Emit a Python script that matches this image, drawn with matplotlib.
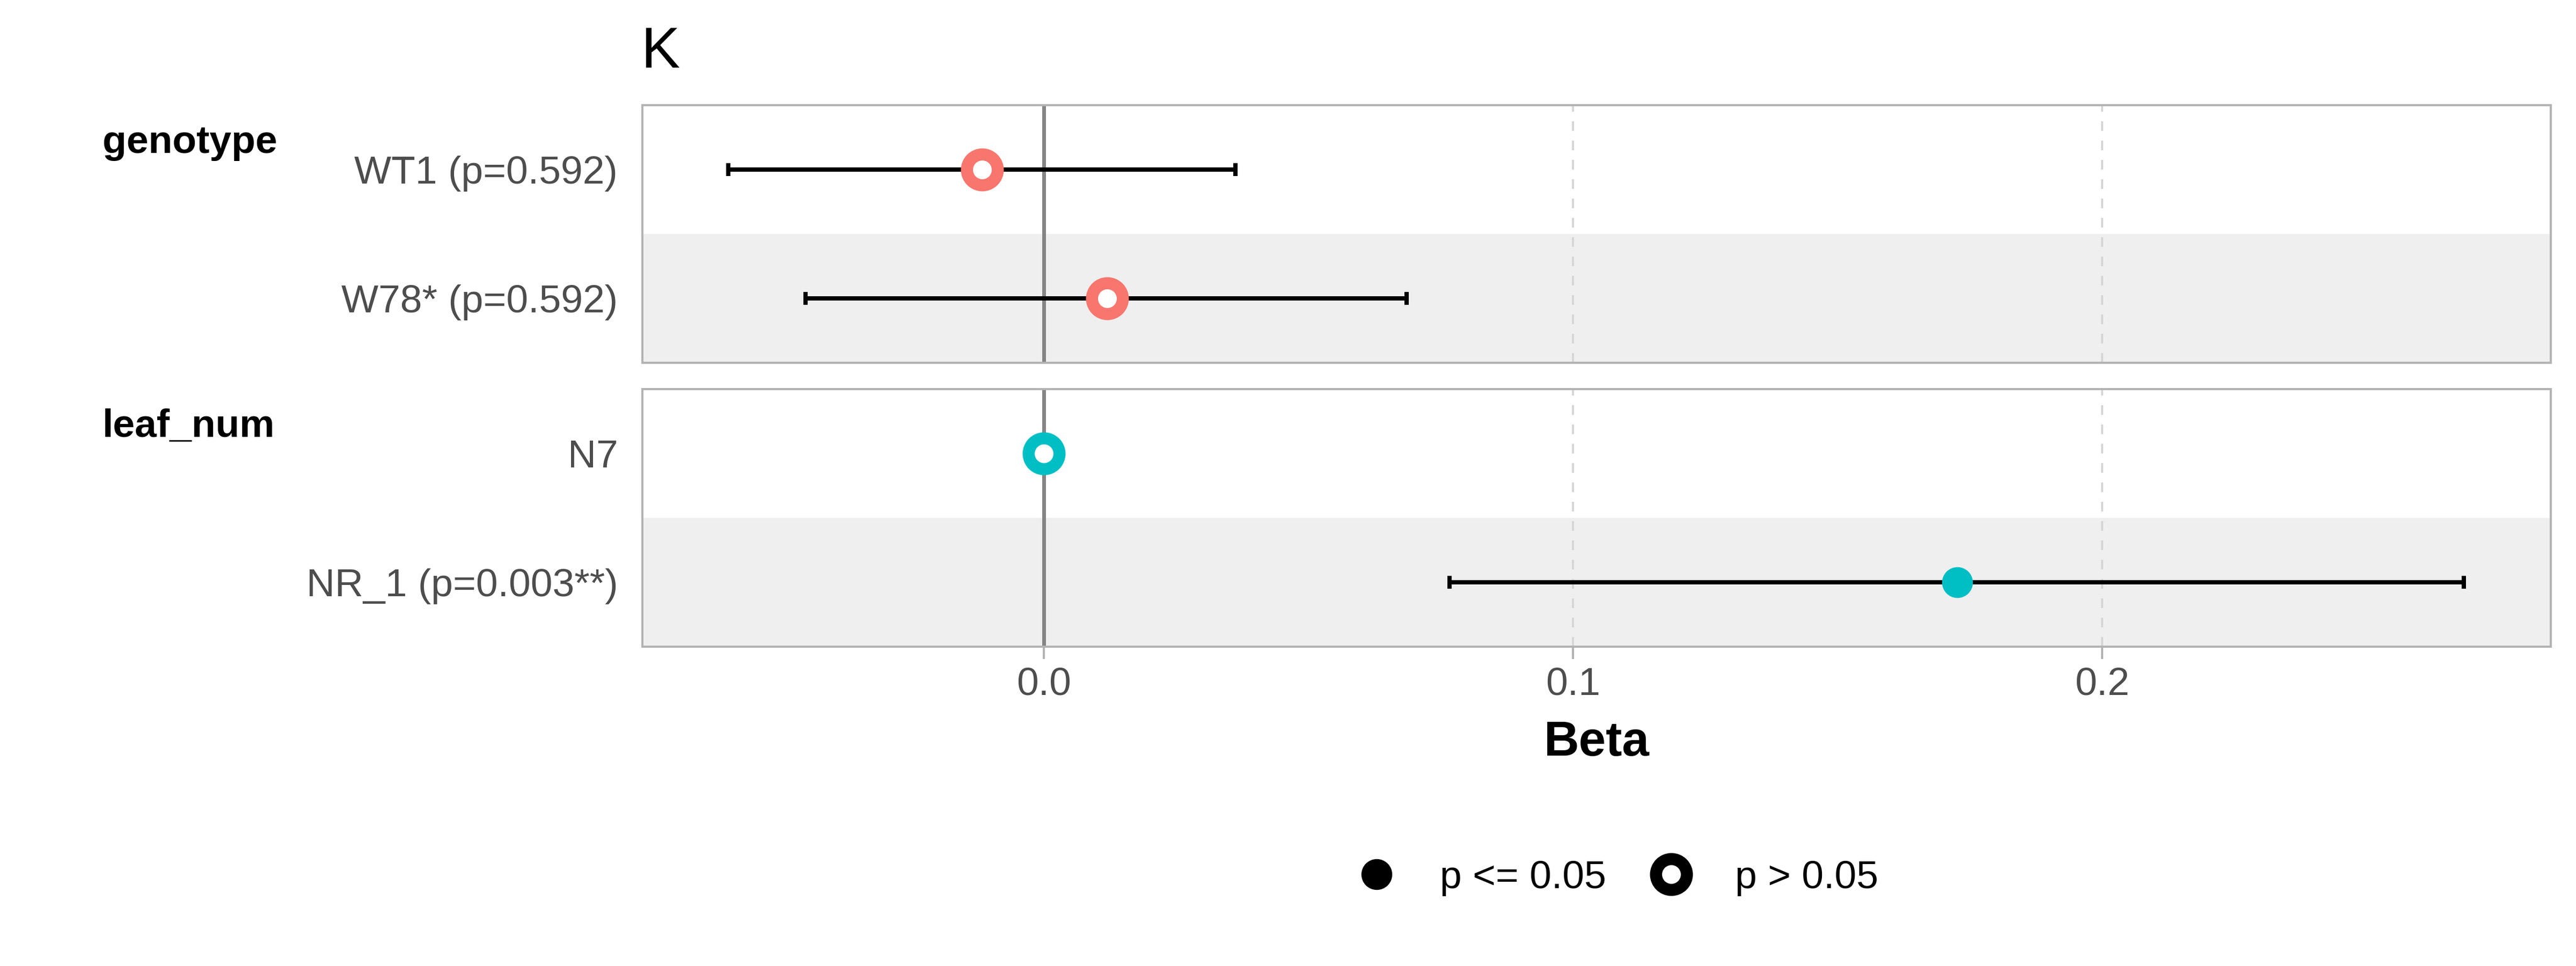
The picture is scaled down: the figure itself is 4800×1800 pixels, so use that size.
import numpy as np
import matplotlib
matplotlib.use("Agg")
import matplotlib.pyplot as plt
from matplotlib.lines import Line2D

plt.rcParams['font.family'] = ['Liberation Sans', 'DejaVu Sans']

# ---- data ----
groups = ["genotype", "leaf_num"]
group_colors = ["#F8766D", "#00BFC4"]
labels = [["WT1 (p=0.592)", "W78* (p=0.592)"],
          ["N7", "NR_1 (p=0.003**)"]]
estimates = [[-0.0117, 0.0120], [0.0, 0.1726]]
lower = [[-0.0596, -0.0450], [np.nan, 0.0767]]
upper = [[0.0362, 0.0686], [np.nan, 0.2684]]
significant = [[False, False], [False, True]]
xticks = [0.0, 0.1, 0.2]
xticklabels = ["0.0", "0.1", "0.2"]
title = "K"
xlabel = "Beta"
legend_labels = ["p <= 0.05", "p > 0.05"]

# ---- layout ----
W, H, DPI = 4800, 1800, 300
fig = plt.figure(figsize=(W / DPI, H / DPI), dpi=DPI)
px = 72.0 / DPI  # points per pixel

L, R = 1197 / W, 4753 / W
panels = [(196, 676), (725, 1205)]
xlim = (-0.07586, 0.28479)

MS = 57.5 * px
MEW = 22.5 * px
tick_fs = 17.6
grey = "#B3B3B3"

for gi, (top, bot) in enumerate(panels):
    ax = fig.add_axes([L, 1 - bot / H, R - L, (bot - top) / H])
    ax.set_xlim(*xlim)
    ax.set_ylim(-0.5, 1.5)
    ax.axhspan(-0.5, 0.5, color="#EFEFEF", lw=0, zorder=0)
    for xt in xticks:
        if xt != 0:
            ax.axvline(xt, color="#D6D6D6", lw=4 * px, ls=(0, (4.5, 4.5)), zorder=1)
    ax.axvline(0, color="#858585", lw=7 * px, zorder=2)
    ys = [1, 0]
    col = group_colors[gi]
    for j in range(2):
        est = estimates[gi][j]
        lo, hi = lower[gi][j], upper[gi][j]
        y = ys[j]
        if not np.isnan(lo):
            ax.errorbar([est], [y], xerr=[[est - lo], [hi - est]], fmt='none',
                        ecolor="black", elinewidth=8 * px, capsize=12 * px,
                        capthick=8 * px, zorder=3)
        if significant[gi][j]:
            ax.plot([est], [y], 'o', ms=MS, mfc=col, mec=col, mew=0, zorder=4)
        else:
            ax.plot([est], [y], 'o', ms=MS, mfc="white", mec=col, mew=MEW, zorder=4)
    ax.set_yticks(ys)
    ax.set_yticklabels(labels[gi], fontsize=tick_fs, color="#4D4D4D")
    ax.tick_params(axis='y', length=0, pad=11)
    for s in ax.spines.values():
        s.set_color(grey)
        s.set_linewidth(4 * px)
    ax.set_xticks(xticks)
    if gi == 1:
        ax.set_xticklabels(xticklabels, fontsize=tick_fs, color="#4D4D4D")
        ax.tick_params(axis='x', length=23 * px, width=4 * px, color=grey, pad=3.5)
    else:
        ax.tick_params(axis='x', length=0, labelbottom=False)
    fig.text(193 / W - 0.0005, 1 - (285 + gi * 529) / H, groups[gi], fontsize=17.6,
             fontweight='bold', ha='left', va='baseline', color="black")

fig.text(1194 / W, 1 - 126 / H, title, fontsize=26, ha='left', va='baseline', color="black")
fig.text(2975 / W, 1 - 1408 / H, xlabel, fontsize=21.8, fontweight='bold',
         ha='center', va='baseline', color="black")

handles = [Line2D([], [], ls='none', marker='o', ms=MS, mfc='black', mec='black', mew=0),
           Line2D([], [], ls='none', marker='o', ms=MS, mfc='white', mec='black', mew=MEW)]
fig.legend(handles, legend_labels, loc='center', bbox_to_anchor=(3014 / W, 1 - 1636 / H),
           ncol=2, frameon=False, fontsize=17.6, handlelength=1.0, handletextpad=1.12,
           columnspacing=1.15, borderpad=0.2)

fig.savefig("out.png", dpi=DPI, facecolor="white")
